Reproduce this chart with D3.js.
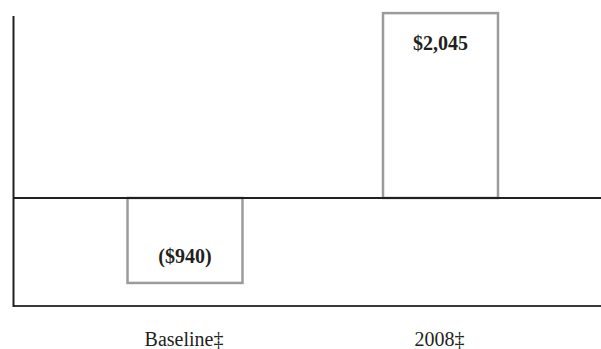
<!DOCTYPE html>
<html><head><meta charset="utf-8">
<script src="https://cdn.jsdelivr.net/npm/d3@7"></script>
<style>html,body{margin:0;padding:0;background:#fff;}svg{display:block;}</style>
</head><body>
<svg id="chart" width="601" height="349"></svg>
<script>
const categories = ["Baseline\u2021", "2008\u2021"];
const values = [-940, 2045];
const valueLabels = ["($940)", "$2,045"];

const svg = d3.select("#chart");
const W = 601, H = 349;
const axisX = 13.5, plotTop = 16, plotBottom = 306;

const x = d3.scaleBand().domain(categories).range([57.25, 568.25])
  .paddingInner(0.55).paddingOuter(0.275);
const y = d3.scaleLinear().domain([-1195, 2013]).range([plotBottom, plotTop]);

const ink = "#231f20";

// bars
svg.selectAll("rect.bar").data(values).enter().append("rect")
  .attr("class", "bar")
  .attr("x", (d, i) => x(categories[i]))
  .attr("width", x.bandwidth())
  .attr("y", d => Math.min(y(d), y(0)))
  .attr("height", d => Math.abs(y(d) - y(0)))
  .attr("fill", "#fff").attr("stroke", "#9b9b9b").attr("stroke-width", 2.5);

// zero line
svg.append("line").attr("x1", axisX).attr("x2", W)
  .attr("y1", y(0)).attr("y2", y(0)).attr("stroke", ink).attr("stroke-width", 2);
// bottom line
svg.append("line").attr("x1", axisX).attr("x2", W)
  .attr("y1", plotBottom).attr("y2", plotBottom).attr("stroke", "#3a3a3a").attr("stroke-width", 2);
// y axis
svg.append("line").attr("x1", axisX).attr("x2", axisX)
  .attr("y1", plotTop).attr("y2", plotBottom + 1).attr("stroke", ink).attr("stroke-width", 2);

// value labels
svg.selectAll("text.val").data(values).enter().append("text")
  .attr("class", "val")
  .attr("x", (d, i) => x(categories[i]) + x.bandwidth() / 2)
  .attr("y", d => d >= 0 ? y(d) + 37 : y(d) - 19.5)
  .attr("text-anchor", "middle")
  .attr("font-family", "'Liberation Serif', 'Times New Roman', serif")
  .attr("font-weight", "bold").attr("font-size", 20).attr("fill", ink)
  .text((d, i) => valueLabels[i]);

// category labels
svg.selectAll("text.cat").data(categories).enter().append("text")
  .attr("class", "cat")
  .attr("x", d => x(d) + x.bandwidth() / 2 - 1)
  .attr("y", 346)
  .attr("text-anchor", "middle")
  .attr("font-family", "'Liberation Serif', 'Times New Roman', serif")
  .attr("font-size", 20).attr("fill", ink)
  .text(d => d);
</script>
</body></html>
